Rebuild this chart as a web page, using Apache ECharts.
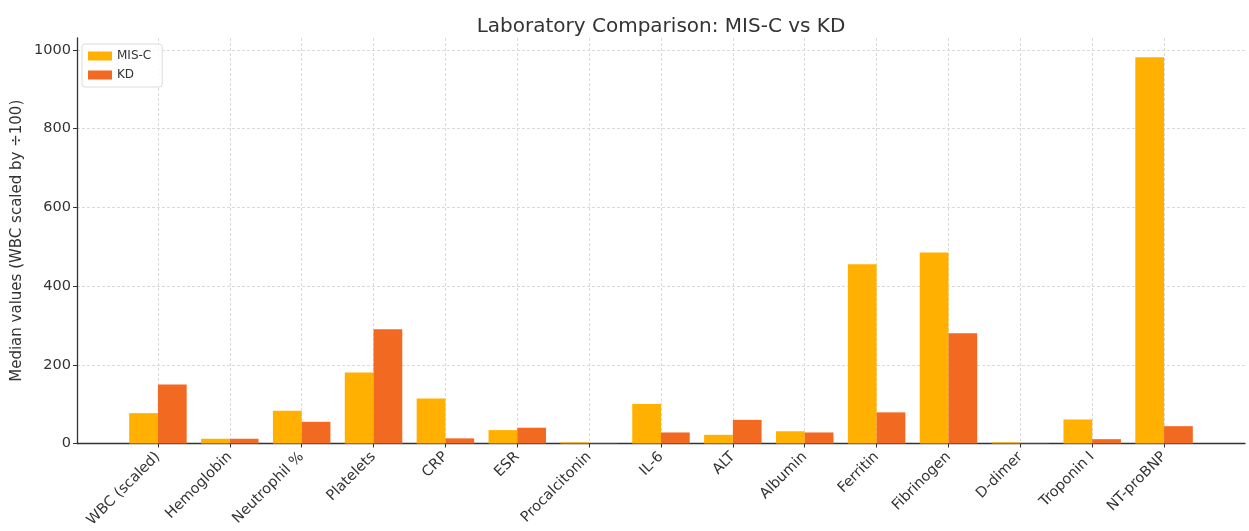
<!DOCTYPE html>
<html>
<head>
<meta charset="utf-8">
<script src="https://cdn.jsdelivr.net/npm/echarts@6/dist/echarts.min.js"></script>
<style>
html,body{margin:0;padding:0;background:#fff;}
#c{width:1249px;height:531px;}
</style>
</head>
<body>
<div id="c"></div>
<script>
const categories = ['WBC (scaled)','Hemoglobin','Neutrophil %','Platelets','CRP','ESR','Procalcitonin','IL-6','ALT','Albumin','Ferritin','Fibrinogen','D-dimer','Troponin I','NT-proBNP'];
const misc = [77, 12, 83, 180, 114, 34, 3, 100, 22, 31, 455, 485, 3, 61, 980];
const kd   = [150, 12, 55, 290, 13, 40, 0.5, 28, 60, 28, 79, 280, 0.5, 11, 44];
const yTicks = [0, 200, 400, 600, 800, 1000];
const seriesNames = ['MIS-C', 'KD'];
const title = 'Laboratory Comparison: MIS-C vs KD';
const yLabel = 'Median values (WBC scaled by \u00f7100)';

const FONT = 'DejaVu Sans';
const TXT = '#333';
const GRIDC = '#d0d0d0';
const yMaxOuter = 1029;

const chart = echarts.init(document.getElementById('c'), null, {renderer: 'canvas'});
const option = {
  backgroundColor: '#fff',
  animation: false,
  textStyle: {fontFamily: FONT},
  title: {
    text: title, left: 656, top: 12, textAlign: 'center',
    textStyle: {fontFamily: FONT, fontSize: 20, fontWeight: 'normal', color: TXT}
  },
  legend: {
    data: seriesNames, orient: 'vertical', left: 82, top: 44,
    itemWidth: 24, itemHeight: 9, itemGap: 7,
    padding: [6, 11, 6, 6],
    borderColor: '#dcdcdc', borderWidth: 1, borderRadius: 3,
    backgroundColor: 'rgba(255,255,255,0.8)',
    textStyle: {fontFamily: FONT, fontSize: 12, color: TXT},
    icon: 'rect'
  },
  grid: [
    {left: 77, right: 4, top: 38, bottom: 87.5},      // frame (spines)
    {left: 77, right: 4, top: 50, bottom: 87.5},      // y ticks + horizontal grid
    {left: 122, right: 49, top: 38, bottom: 87.5},    // bars
    {left: 158, right: 85, top: 38, bottom: 87.5}     // vertical grid lines
  ],
  xAxis: [
    {gridIndex: 0, type: 'value', min: 0, max: 1, axisLine: {show: true, onZero: false, lineStyle: {color: TXT, width: 1.3}},
     axisTick: {show: false}, axisLabel: {show: false}, splitLine: {show: false}},
    {gridIndex: 1, type: 'value', min: 0, max: 1, show: false},
    {gridIndex: 2, type: 'category', data: categories, boundaryGap: true,
     axisLine: {show: false},
     axisTick: {show: true, alignWithLabel: true, interval: 0, length: 4, lineStyle: {color: TXT}},
     axisLabel: {interval: 0, rotate: 45, margin: 11, fontFamily: FONT, fontSize: 14.5, color: TXT},
     splitLine: {show: false}},
    {gridIndex: 3, type: 'category', data: categories, boundaryGap: false,
     axisLine: {show: false}, axisTick: {show: false}, axisLabel: {show: false},
     splitLine: {show: true, interval: 0, lineStyle: {color: GRIDC, type: [3, 2], width: 0.8}}}
  ],
  yAxis: [
    {gridIndex: 0, type: 'value', min: 0, max: yMaxOuter,
     name: yLabel, nameLocation: 'middle', nameGap: 52, nameRotate: 90,
     nameTextStyle: {fontFamily: FONT, fontSize: 15, color: TXT},
     axisLine: {show: true, lineStyle: {color: TXT, width: 1.3}},
     axisTick: {show: false}, axisLabel: {show: false}, splitLine: {show: false}},
    {gridIndex: 1, type: 'value', min: yTicks[0], max: yTicks[yTicks.length - 1], interval: 200,
     axisLine: {show: false},
     axisTick: {show: true, length: 4, inside: false, lineStyle: {color: TXT}},
     axisLabel: {fontFamily: FONT, fontSize: 14.5, color: TXT, margin: 6, formatter: v => String(v)},
     splitLine: {show: true, lineStyle: {color: GRIDC, type: [3, 2], width: 0.8}}},
    {gridIndex: 2, type: 'value', min: 0, max: yMaxOuter, show: false},
    {gridIndex: 3, type: 'value', min: 0, max: 1, show: false}
  ],
  series: [
    {name: seriesNames[0], type: 'bar', xAxisIndex: 2, yAxisIndex: 2, data: misc,
     barWidth: '40%', barGap: '0%', itemStyle: {color: '#FFB000'}, z: 3},
    {name: seriesNames[1], type: 'bar', xAxisIndex: 2, yAxisIndex: 2, data: kd,
     barWidth: '40%', barGap: '0%', itemStyle: {color: '#F26A22'}, z: 3}
  ]
};
chart.setOption(option);
</script>
</body>
</html>
